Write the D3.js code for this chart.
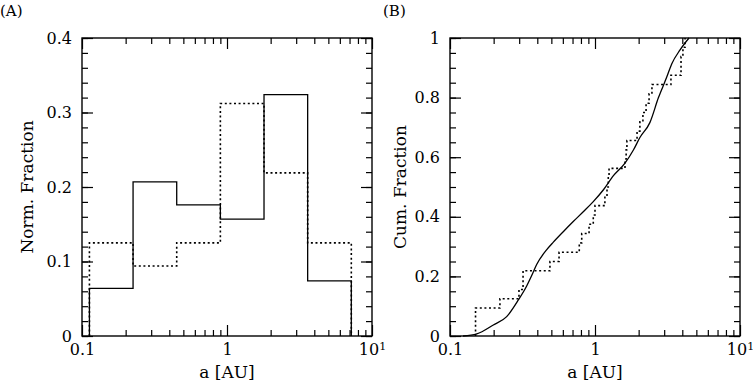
<!DOCTYPE html>
<html>
<head>
<meta charset="utf-8">
<script src="https://cdn.jsdelivr.net/npm/d3@7"></script>
<style>
  body { margin: 0; background: #fff; }
  svg text { font-family: "DejaVu Serif", serif; fill: #000; }
  .frame { fill: none; stroke: #000; stroke-width: 1.4; }
  .tick line { stroke: #000; stroke-width: 1.2; }
  .solid { fill: none; stroke: #000; stroke-width: 1.3; }
  .dotted { fill: none; stroke: #000; stroke-width: 1.6; stroke-dasharray: 2 2.6; }
</style>
</head>
<body>
<svg id="chart" width="753" height="388"></svg>
<script>
// panel A: histogram bins (log-spaced), fraction per bin
var binEdges = [0.1125, 0.225, 0.45, 0.9, 1.8, 3.6, 7.2];
var histSolid = [0.064, 0.207, 0.176, 0.157, 0.324, 0.074];
var histDotted = [0.125, 0.094, 0.125, 0.312, 0.219, 0.125];

// panel B: sorted sample (dotted step CDF), 32 objects
var sampleA = [0.150, 0.150, 0.150, 0.221, 0.299, 0.319, 0.319, 0.489, 0.565, 0.779,
               0.810, 0.910, 0.973, 1.00, 1.17, 1.21, 1.235, 1.25, 1.61, 1.64,
               1.66, 1.95, 2.04, 2.14, 2.25, 2.36, 2.47, 3.34, 3.92, 3.92,
               4.04, 4.18];
// panel B: smooth cumulative curve
var cumA = [0.123, 0.153, 0.199, 0.246, 0.296, 0.338, 0.366, 0.396, 0.465, 0.516,
            0.604, 0.708, 0.830, 0.973, 1.14, 1.34, 1.61, 1.84, 2.04, 2.39,
            2.74, 3.12, 3.38, 3.86, 4.45];
var cumF = [0, 0.007, 0.037, 0.065, 0.121, 0.168, 0.203, 0.240, 0.290, 0.315,
            0.350, 0.384, 0.417, 0.451, 0.490, 0.538, 0.580, 0.624, 0.666, 0.716,
            0.800, 0.868, 0.913, 0.960, 1.0];

var xMajor = [0.1, 1, 10];
var xMinor = [0.2,0.3,0.4,0.5,0.6,0.7,0.8,0.9,2,3,4,5,6,7,8,9];

var svg = d3.select('#chart');
var top_ = 38, bottom = 336;

function xLabelFormat(sel) {
    sel.selectAll('.tick text').each(function(d) {
        var t = d3.select(this);
        if (d === 10) {
            t.text('10');
            t.append('tspan').attr('dy', '-0.45em').style('font-size', '11px').text('1');
        } else {
            t.text(d === 0.1 ? '0.1' : '1');
        }
    });
}

function drawPanel(left, right, yMax, yMajorStep, yMinorStep, yFmt, yLabel, tag, labelX, yPad) {
    var x = d3.scaleLog().domain([0.1, 10]).range([left, right]);
    var y = d3.scaleLinear().domain([0, yMax]).range([bottom, top_]);
    var g = svg.append('g');
    var w = right - left, h = bottom - top_;

    var yMaj = d3.range(0, yMax + 1e-9, yMajorStep);
    var yMin = d3.range(0, yMax + 1e-9, yMinorStep);

    // ticks all four sides, pointing inward
    var axes = [
        [d3.axisBottom(x).tickValues(xMajor).tickSize(-11).tickPadding(8), [0, bottom], true],
        [d3.axisBottom(x).tickValues(xMinor).tickSize(-6).tickFormat(''), [0, bottom]],
        [d3.axisTop(x).tickValues(xMajor).tickSize(-11).tickFormat(''), [0, top_]],
        [d3.axisTop(x).tickValues(xMinor).tickSize(-6).tickFormat(''), [0, top_]],
        [d3.axisLeft(y).tickValues(yMaj).tickSize(-11).tickPadding(yPad).tickFormat(yFmt), [left, 0]],
        [d3.axisLeft(y).tickValues(yMin).tickSize(-6).tickFormat(''), [left, 0]],
        [d3.axisRight(y).tickValues(yMaj).tickSize(-11).tickFormat(''), [right, 0]],
        [d3.axisRight(y).tickValues(yMin).tickSize(-6).tickFormat(''), [right, 0]]
    ];
    axes.forEach(function(a, i) {
        var ax = g.append('g').attr('transform', 'translate(' + a[1] + ')').call(a[0]);
        ax.select('.domain').remove();
        ax.selectAll('text').style('font-size', '16px');
        if (i === 0) ax.call(xLabelFormat);
    });

    g.append('rect').attr('class', 'frame')
        .attr('x', left).attr('y', top_).attr('width', w).attr('height', h);

    svg.append('text').attr('x', (left + right) / 2).attr('y', 378)
        .attr('text-anchor', 'middle').style('font-size', '17px').text('a [AU]');
    svg.append('text')
        .attr('transform', 'translate(' + labelX + ',' + (top_ + bottom) / 2 + ') rotate(-90)')
        .attr('text-anchor', 'middle').attr('dy', '0.35em')
        .style('font-size', '17px').text(yLabel);
    svg.append('text').attr('x', left - (tag === '(A)' ? 82 : 67)).attr('y', 16)
        .style('font-size', '15px').text(tag);

    return { x: x, y: y, g: g };
}

function yFmtA(d) { return d === 0 ? '0' : d3.format('.1f')(d); }
function yFmtB(d) { return d === 0 ? '0' : (d === 1 ? '1' : d3.format('.1f')(d)); }

// panel A
var pA = drawPanel(82, 372, 0.4, 0.1, 0.02, yFmtA, 'Norm. Fraction', '(A)', 27, 10);
function histPoints(vals) {
    var pts = [[binEdges[0], 0]];
    vals.forEach(function(v, i) {
        pts.push([binEdges[i], v]);
        pts.push([binEdges[i + 1], v]);
    });
    pts.push([binEdges[binEdges.length - 1], 0]);
    return pts;
}
var lineA = d3.line().x(function(d) { return pA.x(d[0]); }).y(function(d) { return pA.y(d[1]); });
pA.g.append('path').attr('class', 'dotted').attr('d', lineA(histPoints(histDotted)));
pA.g.append('path').attr('class', 'solid').attr('d', lineA(histPoints(histSolid)));

// panel B
var pB = drawPanel(450, 740, 1, 0.2, 0.05, yFmtB, 'Cum. Fraction', '(B)', 400, 10);
var n = sampleA.length;
var stepPts = [[sampleA[0], 0]].concat(sampleA.map(function(v, i) { return [v, (i + 1) / n]; }));
var stepLine = d3.line().curve(d3.curveStepAfter)
    .x(function(d) { return pB.x(d[0]); }).y(function(d) { return pB.y(d[1]); });
pB.g.append('path').attr('class', 'dotted').attr('d', stepLine(stepPts));

var cumLine = d3.line().curve(d3.curveMonotoneX)
    .x(function(d, i) { return pB.x(d); }).y(function(d, i) { return pB.y(cumF[i]); });
pB.g.append('path').attr('class', 'solid').attr('d', cumLine(cumA));
</script>
</body>
</html>
